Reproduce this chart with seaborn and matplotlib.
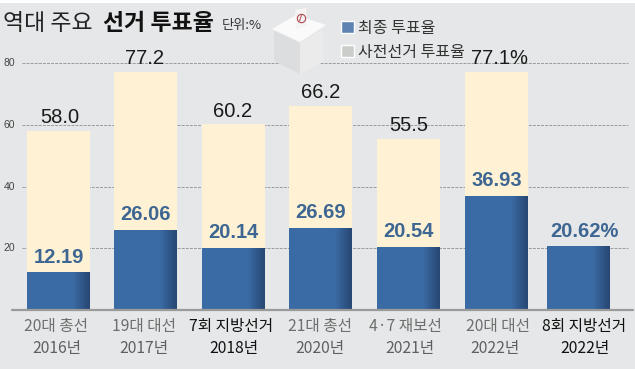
import numpy as np
import pandas as pd
import seaborn as sns
import matplotlib
matplotlib.use("Agg")
import matplotlib.pyplot as plt
from matplotlib.patches import Polygon, Rectangle, Patch

# ---- data ----
elections = ["20대 총선", "19대 대선", "7회 지방선거", "21대 총선", "4·7 재보선", "20대 대선", "8회 지방선거"]
years = ["2016년", "2017년", "2018년", "2020년", "2021년", "2022년", "2022년"]
final_turnout = [58.0, 77.2, 60.2, 66.2, 55.5, 77.1, 0.0]
early_turnout = [12.19, 26.06, 20.14, 26.69, 20.54, 36.93, 20.62]
final_labels = ["58.0", "77.2", "60.2", "66.2", "55.5", "77.1%", ""]
early_labels = ["12.19", "26.06", "20.14", "26.69", "20.54", "36.93", "20.62%"]
y_ticks = [20, 40, 60, 80]

# ---- layout (pixels) ----
W, H = 635, 369
centers = [58.5, 145.5, 233.5, 320.5, 408.5, 496.5, 578.5]
name_x = [55.5, 144, 231, 320, 405, 497.5, 584]
year_x = [57, 144, 234, 320, 410, 495, 585]
final_x = [60, 145, 233, 320.5, 408.5, 499, 578.5]
early_x = [58.5, 145.5, 233.5, 320.5, 408.5, 496.5, 584]
bar_w = 63
BASE, PX = 310, (310 - 63) / 80

sns.set_theme(style="white")
KR = "Noto Sans CJK KR"
NUM = ["Liberation Sans", KR]
plt.rcParams["font.family"] = [KR, "DejaVu Sans"]

fig = plt.figure(figsize=(W / 100, H / 100), dpi=100, facecolor="#ffffff")
ax = fig.add_axes([0, 0, 1, 1])

def frame():
    ax.set_xlim(0, W)
    ax.set_ylim(-(H - BASE) / PX, BASE / PX)
    ax.axis("off")

def yp(p):
    return (BASE - p) / PX

frame()
ax.add_patch(Rectangle((0, yp(369)), W, yp(3) - yp(369), facecolor="#e6e7e8", edgecolor="none", zorder=0))

df = pd.DataFrame({"pos": centers, "final": final_turnout, "early": early_turnout})
sp = min(np.diff(centers))
for gy in y_ticks:
    ax.plot([22, 628], [gy, gy], color="#9b9b9b", lw=0.7, ls=(0, (3, 1.2)), zorder=1)
sns.barplot(data=df, x="pos", y="final", native_scale=True, width=bar_w / sp,
            color="#fff2d4", saturation=1, ax=ax, zorder=2, legend=False, linewidth=0)
n1 = len(ax.patches)
sns.barplot(data=df, x="pos", y="early", native_scale=True, width=bar_w / sp,
            color="#3a6ba5", saturation=1, ax=ax, zorder=3, legend=False, linewidth=0)

# darker shading on the right edge of blue bars
grad = np.zeros((1, 32, 4))
grad[..., :3] = np.array([0.12, 0.20, 0.34])
grad[0, :, 3] = np.clip((np.linspace(0, 1, 32) - 0.74) / 0.26, 0, 1) * 0.62
for p in ax.patches[n1:]:
    x0, w, h = p.get_x(), p.get_width(), p.get_height()
    ax.imshow(grad, extent=(x0, x0 + w - 0.5, 0, h - 0.5 / PX), aspect="auto", zorder=4, interpolation="bilinear")
frame()

# baseline
ax.plot([12, 633], [0, 0], color="#9a9a9a", lw=1.6, zorder=5)

# tick labels
for gy in y_ticks:
    ax.text(9.5, gy, str(gy), fontsize=7.5, color="#444444", ha="center", va="center",
            family=NUM, zorder=6)

# value labels
for fx, ex, f, e, fl, el in zip(final_x, early_x, final_turnout, early_turnout, final_labels, early_labels):
    if fl:
        ax.text(fx, f + 13 / PX, fl, fontsize=14.5, family=NUM, color="#1a1a1a", ha="center", va="center", zorder=6)
    ax.text(ex, e + 15 / PX, el, fontsize=14.5, family=NUM, color="#3d6692", ha="center", va="center",
            fontweight="bold", zorder=6)

# category labels
for nx, yx, n, yr in zip(name_x, year_x, elections, years):
    local = "지방선거" in n
    col = "#111111" if local else "#6e6e6e"
    ax.text(nx, yp(326.5), n, fontsize=11.3, color=col, ha="center", va="center",
            fontweight="medium" if local else "normal", zorder=6)
    ax.text(yx, yp(348), yr, fontsize=11.3, color="#111111" if local else "#5f5f5f", ha="center", va="center", zorder=6)

# title
ax.text(3, yp(23.5), "역대 주요", fontsize=16.5, color="#222222", ha="left", va="center", zorder=6)
ax.text(103, yp(23.5), "선거 투표율", fontsize=16.5, color="#111111", fontweight="bold", ha="left", va="center", zorder=6)
ax.text(222, yp(25.5), "단위:%", fontsize=9.5, color="#333333", ha="left", va="center", zorder=6)

# ballot box
def poly(pts, color, z=7):
    ax.add_patch(Polygon([(x, yp(y)) for x, y in pts], closed=True, facecolor=color, edgecolor="none", zorder=z))
poly([(274, 31), (300, 43), (300, 74), (274, 61)], "#dcddde")
poly([(300, 43), (323, 29), (323, 62), (300, 74)], "#ebebec")
poly([(272, 29), (296, 15), (326, 25), (300, 42)], "#fafafa")
poly([(295, 10), (306, 8), (307, 26), (296, 29)], "#f6f4f3", z=8)
ax.plot([300.5], [yp(18)], marker="o", ms=6, mfc="none", mec="#b04a50", mew=0.8, zorder=9)
ax.plot([299.5, 301.5], [yp(21), yp(15)], color="#b04a50", lw=0.7, zorder=9)

# legend
handles = [Patch(facecolor="#5d84b3", label="최종 투표율"), Patch(facecolor="#cbcdcb", label="사전선거 투표율")]
leg = ax.legend(handles=handles, loc="upper left", bbox_to_anchor=(341 / W, 1 - 19.5 / H), frameon=False,
                fontsize=11.5, handlelength=0.82, handleheight=0.82, handletextpad=0.25, labelspacing=0.45,
                borderpad=0, borderaxespad=0, labelcolor="#333333")
leg.set_zorder(8)

fig.savefig("out.png", dpi=100, facecolor=fig.get_facecolor())
